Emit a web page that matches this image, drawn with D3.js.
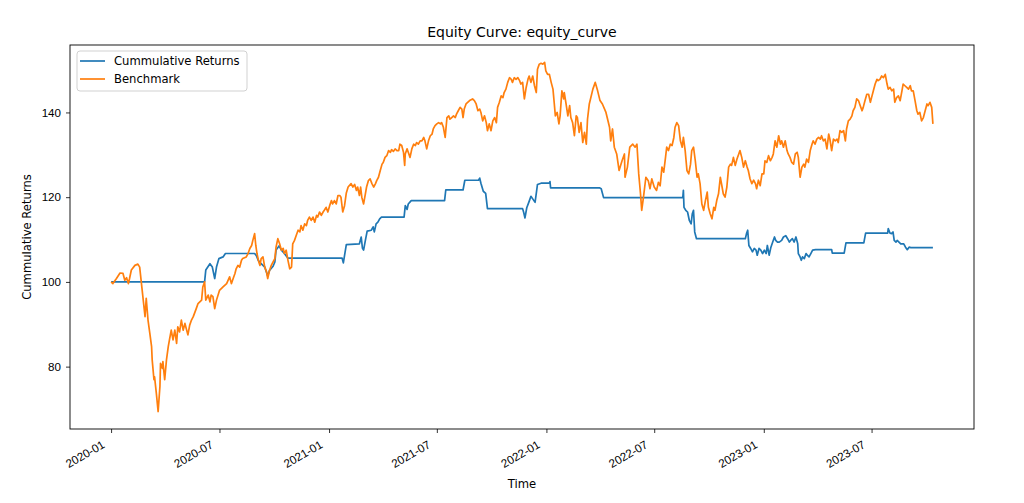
<!DOCTYPE html>
<html>
<head>
  <meta charset="utf-8">
  <title>Equity Curve</title>
  <script src="https://d3js.org/d3.v7.min.js"></script>
  <style>
    body { margin: 0; background: white; }
    svg { font-family: "DejaVu Sans", sans-serif; }
  </style>
</head>
<body>
<script>
  // days since 2020-01-01 and values
  const startDate = Date.UTC(2020, 0, 1);

  const stratDays = [0, 157, 159, 166, 170, 174, 177, 181, 188, 192, 241, 244, 247, 252, 258, 263, 266, 272, 275, 277, 282, 286, 291, 297,
    388, 390, 395, 417, 420, 422, 424, 427, 430, 437, 440, 442, 445, 448, 451, 454, 492, 494, 497, 499, 504, 560, 562, 591, 594,
    617, 619, 621, 625, 629, 632, 691, 693, 695, 698, 702, 705, 708, 712, 716, 722, 736, 737, 738, 820, 823, 827,
    960, 961, 962, 965, 968, 971, 974, 976, 978, 980, 983, 1065, 1067, 1069, 1071, 1074, 1077, 1080, 1083, 1085, 1088, 1091,
    1094, 1097, 1100, 1102, 1105, 1108, 1111, 1114, 1116, 1119, 1122, 1126, 1129, 1133, 1136, 1139, 1141, 1144, 1147, 1150,
    1153, 1154, 1157, 1159, 1161, 1164, 1167, 1169, 1172, 1175, 1178, 1183, 1210, 1211, 1231, 1234, 1264, 1267, 1304, 1305,
    1308, 1311, 1313, 1315, 1318, 1320, 1323, 1326, 1331, 1334, 1337, 1340, 1343, 1380];
  const stratVals = [100, 100, 102.8, 104.3, 103.5, 100.8, 103.5, 105.5, 105.9, 106.7, 106.7, 106.2, 105.1, 104.3, 103.5, 101.4, 102.7, 103.7, 104.7, 107.5, 108.5, 107.5, 106.7, 105.6,
    105.6, 104.5, 108.8, 109, 110.6, 108, 107.5, 109.8, 112, 112.2, 113, 111.8, 113.7, 114.1, 114.9, 115.3, 115.3, 118, 117.1, 118.4, 119.2, 119.2, 121.7, 121.7, 124,
    124, 124.5, 123.3, 121.4, 120.9, 117.3, 117.3, 116.3, 115.1, 117.5, 119, 120.2, 119.6, 118.8, 123, 123.3, 123.3, 123.7, 122.2, 122.2, 122, 119.9,
    119.9, 121.6, 117.6, 116.9, 116.5, 114.5, 113.7, 116.1, 116.9, 111.8, 110.2, 110.2, 111.4, 112.2, 108.6, 107.9, 107.1, 107.9, 107.5, 106.3, 107.9, 107.5,
    106.7, 107.5, 106.7, 108.6, 106.3, 108.2, 109.4, 110.6, 109.8, 109.4, 109.4, 109.8, 110.6, 110.9, 110.2, 109.4, 109.8, 110.2, 109.4, 110.6,
    109, 106.7, 105.9, 105.1, 105.9, 105.5, 106.7, 106.3, 105.9, 106.7, 107.5, 107.6, 107.6, 106.8, 106.8, 109.2, 109.2, 111.5, 111.5, 112.6,
    111.5, 111.4, 111.8, 109.8, 109.4, 109.8, 109.4, 109, 109, 108.2, 107.6, 108.2, 108.1, 108.1];

  const benchDays = [0, 3, 9, 15, 20, 23, 26, 29, 31, 34, 40, 45, 48, 51, 54, 57, 59, 62, 65, 68, 69, 72, 73, 76, 79, 82, 83, 86, 87, 90,
    93, 96, 98, 101, 104, 107, 110, 112, 115, 118, 121, 124, 129, 132, 135, 138, 143, 146, 152, 154, 157, 159, 163, 166, 168, 171, 174, 177,
    182, 188, 194, 199, 202, 205, 208, 210, 213, 216, 219, 221, 227, 230, 233, 236, 238, 241, 243, 245, 248, 250, 252, 255, 258, 261,
    263, 266, 269, 272, 275, 277, 280, 283, 286, 289, 291, 294, 297, 300, 303, 305, 308, 311, 314, 317, 319, 322, 325, 328, 330, 333,
    336, 339, 342, 345, 347, 350, 353, 356, 358, 361, 364, 367, 370, 372, 375, 378, 381, 384, 386, 389, 392, 395, 398, 403, 406, 409,
    412, 414, 417, 419, 421, 424, 427, 429, 432, 435, 438, 441, 444, 446, 449, 452, 455, 457, 460, 463, 466, 469, 471, 474, 477, 480,
    483, 485, 488, 491, 493, 494, 497, 499, 502, 505, 508, 511, 513, 516, 519, 522, 525, 527, 530, 533, 536, 539, 541, 544, 547, 550,
    553, 555, 558, 561, 564, 567, 569, 572, 575, 578, 580, 583, 586, 589, 591, 593, 596, 602, 607, 610, 613, 616, 619, 621, 624, 627,
    630, 632, 635, 638, 641, 644, 647, 649, 652, 655, 658, 660, 663, 666, 669, 672, 674, 677, 680, 683, 686, 688, 691, 694, 697, 700,
    702, 705, 708, 711, 714, 716, 719, 722, 725, 728, 730, 733, 736, 739, 742, 744, 746, 749, 752, 754, 756, 757, 760, 761, 764, 767,
    770, 772, 775, 778, 781, 783, 786, 789, 792, 795, 798, 800, 803, 809, 813, 817, 821, 825, 831, 837, 839, 842, 845, 849, 853, 858,
    862, 863, 867, 871, 876, 880, 883, 886, 889, 891, 894, 898, 902, 905, 908, 912, 916, 919, 922, 925, 928, 931, 933, 936, 939, 942,
    945, 947, 950, 953, 956, 959, 961, 964, 967, 970, 973, 975, 978, 981, 984, 986, 989, 992, 995, 998, 1001, 1003, 1006, 1009, 1012,
    1014, 1017, 1020, 1023, 1026, 1028, 1031, 1034, 1037, 1040, 1042, 1045, 1048, 1051, 1054, 1056, 1059, 1062, 1065, 1068, 1070, 1073,
    1076, 1079, 1082, 1084, 1087, 1090, 1093, 1096, 1098, 1101, 1104, 1107, 1110, 1112, 1115, 1118, 1121, 1124, 1126, 1129, 1132, 1135,
    1137, 1140, 1143, 1146, 1149, 1152, 1154, 1157, 1160, 1163, 1165, 1168, 1171, 1174, 1177, 1179, 1182, 1185, 1188, 1191, 1193, 1196,
    1199, 1202, 1205, 1207, 1210, 1213, 1216, 1219, 1221, 1224, 1227, 1230, 1233, 1235, 1238, 1241, 1244, 1246, 1249, 1252, 1255, 1258,
    1261, 1263, 1266, 1269, 1272, 1275, 1277, 1280, 1283, 1286, 1288, 1291, 1294, 1297, 1300, 1303, 1305, 1308, 1311, 1314, 1316, 1319,
    1322, 1325, 1328, 1330, 1333, 1336, 1339, 1342, 1344, 1347, 1350, 1353, 1355, 1358, 1361, 1364, 1367, 1370, 1372, 1375, 1378, 1380];
  const benchVals = [100, 99.6, 100.8, 102.1, 102, 100.4, 101, 99.6, 100.8, 102.8, 103.9, 104.2, 103.5, 99.6, 95.7, 91.8, 96.1, 91, 87.9, 84.7, 81.6, 76.9, 77.6, 73.7, 69.4, 75.3, 80.8, 79.6, 81.2, 76.9,
    81.6, 84.7, 86.3, 88.6, 86.3, 88.6, 85.5, 89.4, 88.2, 91, 88.6, 90.2, 87.5, 89.8, 91, 91.8, 93.7, 94.9, 95.7, 98.8, 100, 95.7, 96.9, 95.3, 96.9, 96.5, 93.7, 95.7,
    98, 98.8, 99.6, 101.2, 99.6, 100.8, 102, 103.1, 103.9, 103.5, 105.1, 105.5, 105.9, 106.7, 107.9, 108.6, 109.8, 111.4, 108.6, 106.7, 104.7, 103.9, 105.5, 105.9, 103.5, 102.4,
    100.8, 102.7, 103.9, 104.7, 105.5, 108.2, 110.2, 109, 107.5, 107.9, 106.7, 107.5, 105.1, 103.1, 103.5, 109, 109.8, 111, 112.2, 111.8, 113.3, 112.2, 113.7, 113.3, 114.5, 115.3,
    114.5, 115.3, 114.1, 115.7, 115.3, 116.5, 115.7, 116.5, 116.9, 117.6, 116.5, 118, 119.2, 118.4, 119.2, 118.4, 120.4, 120.4, 120, 116.5, 118, 121, 122.4, 123.2, 122.4, 123,
    121.6, 122.4, 120.4, 122.4, 120, 118.4, 120.8, 122.4, 123.9, 124.3, 123.2, 122.4, 123.2, 123.9, 124.7, 126.3, 127.8, 128.2, 129.4, 129.8, 131, 130.6, 131.2, 130.8, 131.4, 131,
    131, 132.5, 132.2, 130.6, 127.5, 130.2, 131.4, 130.6, 129.4, 131.4, 132.5, 132.2, 132.9, 132.5, 133.3, 133.3, 134.1, 133.3, 131.4, 133.3, 134.5, 134.9, 136.1, 136.9, 137.3, 137.6,
    137.3, 137.6, 136.5, 134.1, 138.8, 139.2, 138.4, 138.8, 139.2, 138.8, 139.6, 140.4, 141.2, 140.8, 138.8, 140.8, 142, 142.8, 143.2, 142.8, 142, 140.4, 140.8, 140, 138, 139.2,
    137.6, 135.7, 137.3, 135.7, 138, 138.8, 137.6, 141.2, 142.4, 143.9, 143.5, 144.7, 145.5, 147.1, 148.2, 147.8, 147.1, 148.2, 147.8, 148.2, 147.5, 146.7, 147.1, 143.2, 145.9, 147.8,
    148.6, 147.1, 148.6, 146.3, 144.7, 150.2, 151.4, 151.6, 151.4, 151.8, 149.8, 149, 149, 147.1, 145.5, 142.4, 139.2, 140, 137.3, 139.2, 143.2, 145.1, 143.2, 144.7, 142, 139.2,
    141.6, 138.8, 137.6, 134.5, 139.2, 138.8, 135.3, 137.6, 132.9, 135.3, 132.5, 138.4, 142, 145.5, 147.1, 145.1, 142.8, 142, 140, 136.5, 133.3, 136.1, 131.8, 130.2, 126.3, 128.6,
    130.2, 124.7, 127.1, 131.8, 132.5, 131.8, 132.5, 125.5, 120.8, 116.9, 120, 124.7, 123.9, 122, 124.3, 122.4, 121.6, 123.5, 122.7, 127.1, 125.9, 129.4, 131.8, 131, 132.5, 132.2,
    134.1, 136.5, 137.6, 136.9, 133.3, 131.8, 134.1, 131, 126.3, 125.5, 127.8, 131, 131.8, 128.6, 124.7, 125.5, 123.2, 118.4, 116.9, 119.2, 121.2, 117.6, 116.1, 114.9, 117.6,
    116.9, 119.2, 120.8, 124.7, 122.4, 120.8, 120, 122.4, 127.1, 127.8, 127.5, 129.4, 127.5, 129, 130.2, 131, 129.4, 127.1, 128.6, 127.1, 126.3, 124.3,
    123.2, 124, 123.2, 122, 124, 122.7, 125.5, 125.5, 128.6, 128.2, 129.8, 128.6, 129.4, 130.2, 133.3, 131.8, 134.5, 132.5, 133.3, 131.8, 133.3, 131,
    130.2, 129.4, 128.2, 127.8, 130.2, 130.6, 129.4, 124.7, 127.1, 127.8, 127.1, 129, 128.2, 131, 132.5, 133.3, 132.5, 133.7, 134.1, 133.7, 134.5, 133.3,
    133.7, 131.4, 134.9, 133.7, 131, 133.7, 133.3, 133.7, 132.9, 135.7, 135.3, 135.7, 133.3, 136.1, 138, 138.4, 139.2, 140.4, 141.2, 143.2, 142.8, 141.6,
    140.4, 141.2, 142.8, 144.3, 144.3, 142.4, 143.5, 145.1, 146.7, 147.8, 147.5, 147.8, 148.6, 148.2, 149, 146.7, 145.5, 145.9, 145.1, 145.5, 142.4, 143.5,
    143.9, 142.8, 145.1, 146.7, 146.3, 145.9, 145.5, 146.3, 145.1, 145.1, 142.8, 140.4, 139.6, 140, 138, 138.8, 140.4, 142, 141.6, 142.4, 141.2, 137.3];

  const xTickLabels = ["2020-01", "2020-07", "2021-01", "2021-07", "2022-01", "2022-07", "2023-01", "2023-07"];
  const yTicks = [80, 100, 120, 140];
  const seriesNames = ["Cummulative Returns", "Benchmark"];
  const colors = ["#1f77b4", "#ff7f0e"];

  const width = 1024, height = 503;
  const margin = { top: 45, right: 50, bottom: 74, left: 70 };

  const toDate = d => new Date(startDate + d * 864e5);
  const strat = stratDays.map((d, i) => ({ date: toDate(d), value: stratVals[i] }));
  const bench = benchDays.map((d, i) => ({ date: toDate(d), value: benchVals[i] }));
  const all = strat.concat(bench);

  const svg = d3.select("body").append("svg")
    .attr("width", width)
    .attr("height", height);

  // matplotlib style 5% padding on both axes
  const xExt = d3.extent(all, d => +d.date);
  const xPad = (xExt[1] - xExt[0]) * 0.05;
  const yExt = d3.extent(all, d => d.value);
  const yPad = (yExt[1] - yExt[0]) * 0.05;

  const x = d3.scaleUtc()
    .domain([new Date(xExt[0] - xPad), new Date(xExt[1] + xPad)])
    .range([margin.left, width - margin.right]);
  const y = d3.scaleLinear()
    .domain([yExt[0] - yPad, yExt[1] + yPad])
    .range([height - margin.bottom, margin.top]);

  const parseMonth = d3.utcParse("%Y-%m");

  // x axis
  const xAxisG = svg.append("g")
    .attr("transform", `translate(0, ${height - margin.bottom})`)
    .call(d3.axisBottom(x)
      .tickValues(xTickLabels.map(parseMonth))
      .tickFormat(d3.utcFormat("%Y-%m"))
      .tickSize(4)
      .tickSizeOuter(0));
  xAxisG.select(".domain").remove();
  xAxisG.selectAll(".tick line").attr("stroke", "#000").attr("stroke-width", 0.8);
  xAxisG.selectAll(".tick text")
    .attr("font-size", "11.6px")
    .attr("fill", "#000")
    .attr("text-anchor", "end")
    .attr("dy", null)
    .attr("y", null)
    .attr("transform", "translate(-6, 18) rotate(-30)");

  // y axis
  const yAxisG = svg.append("g")
    .attr("transform", `translate(${margin.left}, 0)`)
    .call(d3.axisLeft(y).tickValues(yTicks).tickSize(4).tickSizeOuter(0));
  yAxisG.select(".domain").remove();
  yAxisG.selectAll(".tick line").attr("stroke", "#000").attr("stroke-width", 0.8);
  yAxisG.selectAll(".tick text")
    .attr("font-size", "11.6px")
    .attr("fill", "#000")
    .attr("x", -9);

  // lines
  const line = d3.line().x(d => x(d.date)).y(d => y(d.value));
  svg.append("path").datum(strat)
    .attr("fill", "none").attr("stroke", colors[0]).attr("stroke-width", 1.7)
    .attr("stroke-linejoin", "round")
    .attr("d", line);
  svg.append("path").datum(bench)
    .attr("fill", "none").attr("stroke", colors[1]).attr("stroke-width", 1.7)
    .attr("stroke-linejoin", "round")
    .attr("d", line);

  // frame
  svg.append("rect")
    .attr("x", margin.left).attr("y", margin.top)
    .attr("width", width - margin.left - margin.right)
    .attr("height", height - margin.top - margin.bottom)
    .attr("fill", "none").attr("stroke", "#000").attr("stroke-width", 0.9);

  // title and labels
  svg.append("text")
    .attr("x", (margin.left + width - margin.right) / 2)
    .attr("y", 37)
    .attr("text-anchor", "middle")
    .attr("font-size", "14px")
    .text("Equity Curve: equity_curve");

  svg.append("text")
    .attr("x", (margin.left + width - margin.right) / 2)
    .attr("y", 488)
    .attr("text-anchor", "middle")
    .attr("font-size", "11.6px")
    .text("Time");

  svg.append("text")
    .attr("transform", `translate(31, ${(margin.top + height - margin.bottom) / 2}) rotate(-90)`)
    .attr("text-anchor", "middle")
    .attr("font-size", "11.6px")
    .text("Cummulative Returns");

  // legend
  const legend = svg.append("g").attr("transform", "translate(77, 51)");
  legend.append("rect")
    .attr("width", 170).attr("height", 40).attr("rx", 3)
    .attr("fill", "white").attr("fill-opacity", 0.8)
    .attr("stroke", "#cccccc").attr("stroke-width", 0.9);
  seriesNames.forEach((name, i) => {
    const row = legend.append("g").attr("transform", `translate(0, ${10 + i * 18})`);
    row.append("line")
      .attr("x1", 3).attr("x2", 28)
      .attr("stroke", colors[i]).attr("stroke-width", 1.7);
    row.append("text")
      .attr("x", 37).attr("dy", "0.35em")
      .attr("font-size", "11.6px")
      .text(name);
  });
</script>
</body>
</html>
